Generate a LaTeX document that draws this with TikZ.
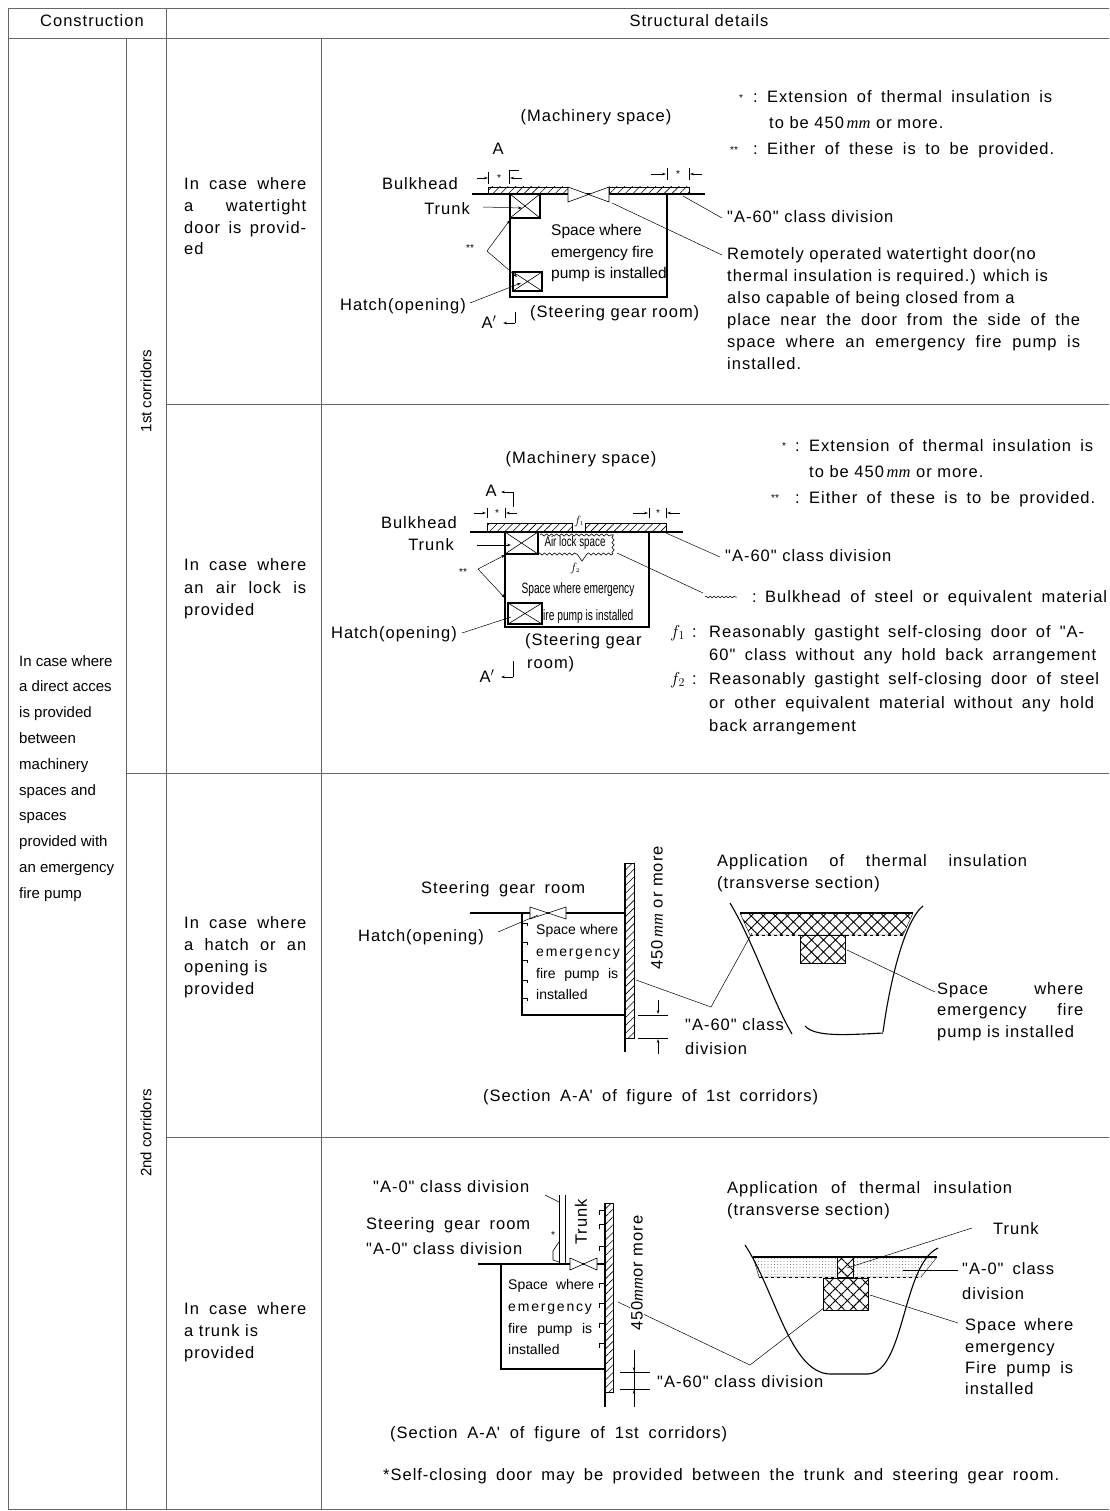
\documentclass[tikz,border=0pt]{standalone}
\usepackage{fontspec}
\setmainfont{Liberation Sans}
\newfontfamily\dfont[LetterSpace=6]{Liberation Sans}
\newfontfamily\pfont{Liberation Sans}
\newfontfamily\wfont[LetterSpace=13]{Liberation Sans}
\newfontfamily\sfontx{Liberation Serif}
\usetikzlibrary{arrows.meta,patterns.meta,decorations.pathmorphing}
\newcommand{\fsz}{\fontsize{16.5}{19}\selectfont}
\newcommand{\fsi}{\fontsize{15.5}{18}\selectfont}
\newcommand{\fsj}{\fontsize{14}{17}\selectfont}
\newcommand{\mmi}{{\sfontx\itshape mm}}
\newcommand{\jb}[2]{\makebox[#1pt][s]{#2}}
\tikzset{
  grid/.style={line width=0.9pt, draw=black!60},
  wall/.style={line width=1.1pt},
  thinl/.style={line width=0.6pt},
  lead/.style={line width=0.5pt},
  arr/.style={-{Stealth[length=4pt,width=2.6pt]}, line width=0.5pt},
  txt/.style={inner sep=0pt, anchor=base west, font=\dfont\fsz},
  txe/.style={inner sep=0pt, anchor=base east, font=\dfont\fsz},
  txc/.style={inner sep=0pt, anchor=center, font=\dfont\fsz},
  itx/.style={inner sep=0pt, anchor=base west, font=\pfont\fsi},
  jtx/.style={inner sep=0pt, anchor=base west, font=\pfont\fsj},
  wtx/.style={inner sep=0pt, anchor=base west, font=\wfont\fsj},
  ltx/.style={inner sep=0pt, anchor=base west, font=\pfont\fontsize{15}{18}\selectfont},
  vtx/.style={inner sep=0pt, anchor=center, rotate=90, font=\pfont\fontsize{15}{18}\selectfont},
  star/.style={inner sep=0pt, anchor=center, font=\pfont\fontsize{10}{12}\selectfont},
  hatchL/.style={pattern={Lines[angle=45,distance=5.5pt,line width=0.6pt]}},
  cross/.style={pattern={Hatch[angle=45,distance=8.5pt,line width=0.9pt]}},
  dotsp/.style={pattern={Dots[distance=3.2pt,radius=0.35pt]}},
  wavy/.style={decorate, decoration={snake, amplitude=1.1pt, segment length=5pt}, line width=0.6pt},
}
\begin{document}
\begin{tikzpicture}[x=1pt,y=-1pt]
\useasboundingbox (0,0) rectangle (1109,1511);
% ---------------- table ----------------
\draw[grid] (8,1509) -- (8,8) -- (1109,8);
\draw[grid] (8,38) -- (1109,38);
\draw[grid] (8,1509) -- (1109,1509);
\draw[grid] (166,8) -- (166,1509);
\draw[grid] (126,38) -- (126,1509);
\draw[grid] (321,38) -- (321,1509);
\draw[grid] (166,404) -- (1109,404);
\draw[grid] (126,773) -- (1109,773);
\draw[grid] (166,1137) -- (1109,1137);
\node[txc] (hc) at (92,21) {Construction};
\node[txc] (hs) at (699,21) {Structural details};
\foreach \t [count=\i] in {In case where,a direct acces,is provided,between,machinery,spaces and,spaces,provided with,an emergency,fire pump}
  \node[ltx] (left\i) at (19,{666+25.8*(\i-1)}) {\t};
\node[vtx] (c1) at (146,391) {1st corridors};
\node[vtx] (c2) at (146,1133) {2nd corridors};
% row labels
\node[txt] (r1a) at (184,190) {\jb{122}{In case where}};
\node[txt] (r1b) at (184,212) {\jb{122}{a watertight}};
\node[txt] (r1c) at (184,234) {\jb{122}{door is provid-}};
\node[txt] (r1d) at (184,255) {ed};
\node[txt] (r2a) at (184,570) {\jb{122}{In case where}};
\node[txt] (r2b) at (184,593) {\jb{122}{an air lock is}};
\node[txt] (r2c) at (184,615) {provided};
\node[txt] (r3a) at (184,928) {\jb{122}{In case where}};
\node[txt] (r3b) at (184,950) {\jb{122}{a hatch or an}};
\node[txt] (r3c) at (184,972) {opening is};
\node[txt] (r3d) at (184,994) {provided};
\node[txt] (r4a) at (184,1314) {\jb{122}{In case where}};
\node[txt] (r4b) at (184,1336) {a trunk is};
\node[txt] (r4c) at (184,1358) {provided};

% ================= ROW 1 =================
\node[txc] (m1) at (596,117) {(Machinery space)};
\node[star] (n1s) at (741,98) {*};
\node[txt] (n1c) at (753,103) {:};
\node[txt] (n1a) at (767,103) {\jb{285}{Extension of thermal insulation is}};
\node[txt] (n1b) at (769,129) {to be 450\,\mmi{} or more.};
\node[star] (n2s) at (734,150) {**};
\node[txt] (n2c) at (753,155) {:};
\node[txt] (n2a) at (767,155) {\jb{287}{Either of these is to be provided.}};
\node[txc] (A1) at (498,149) {A};
% dims
\draw[arr] (477,178) -- (488,178);
\draw[thinl] (488,172) -- (488,184);
\node[star] (d1s) at (499,178) {*};
\draw[thinl] (509,184) -- (509,170) -- (519,170);
\draw[arr] (522,178) -- (510,178);
\draw[arr] (651,174) -- (666,174);
\draw[thinl] (667,168) -- (667,180);
\node[star] (d2s) at (678,174) {*};
\draw[thinl] (689,168) -- (689,180);
\draw[arr] (702,174) -- (690,174);
% bulkhead
\draw[wall] (472,194) -- (705,194);
\draw[thinl, hatchL] (488,187) rectangle (568,194);
\draw[thinl, hatchL] (609,187) rectangle (689,194);
\draw[thinl, fill=white] (568,187) -- (609,202) -- (609,187) -- (568,202) -- cycle;
% room
\draw[wall] (510,194) -- (510,297) -- (667,297) -- (667,194);
\draw[wall] (510,194) rectangle (540,218);
\draw[thinl] (510,194) -- (540,218) (510,218) -- (540,194);
\draw[wall] (513,272) rectangle (542,291);
\draw[thinl] (513,272) -- (542,291) (513,291) -- (542,272);
\node[txe] (bh1) at (458,190) {Bulkhead};
\node[txe] (tr1) at (470,215) {Trunk};
\coordinate (tr1a) at (483,207);
\coordinate (tr1b) at (522,208);
\draw[arr] (tr1a) -- (tr1b);
\node[itx] (sp1a) at (551,236) {Space where};
\node[itx] (sp1b) at (551,258) {emergency fire};
\node[itx] (sp1c) at (551,279) {pump is installed};
\node[star] (ss1) at (470,248) {**};
\coordinate (ss1v) at (487,251);
\coordinate (ss1t) at (510,220);
\coordinate (ss1h) at (517,277);
\draw[arr] (ss1v) -- (ss1t);
\draw[arr] (ss1v) -- (ss1h);
\node[txe] (hat1) at (466,310) {Hatch(opening)};
\coordinate (hat1a) at (470,303);
\coordinate (hat1b) at (521,283);
\draw[arr] (hat1a) -- (hat1b);
\node[txc] (Ap1) at (489,322) {A$'$};
\draw[thinl] (515,312) -- (515,323);
\draw[arr] (515,323) -- (503,323);
\node[txt] (sg1) at (530,317) {(Steering gear room)};
\node[txt] (a60a) at (727,223) {"A-60" class division};
\coordinate (a60ap) at (683,196);
\coordinate (a60aq) at (722,218);
\draw[lead] (a60ap) -- (a60aq);
\coordinate (wdp) at (612,203);
\coordinate (wdq) at (722,255);
\draw[lead] (wdp) -- (wdq);
\node[txt] (wd1) at (727,260) {Remotely operated watertight door(no};
\node[txt] (wd2) at (727,282) {thermal insulation is required.) which is};
\node[txt] (wd3) at (727,304) {also capable of being closed from a};
\node[txt] (wd4) at (727,325) {\jb{353}{place near the door from the side of the}};
\node[txt] (wd5) at (727,347) {\jb{353}{space where an emergency fire pump is}};
\node[txt] (wd6) at (727,369) {installed.};

% ================= ROW 2 =================
\node[txc] (m2) at (581,459) {(Machinery space)};
\node[star] (n3s) at (784,446) {*};
\node[txt] (n3c) at (795,451) {:};
\node[txt] (n3a) at (809,451) {\jb{284}{Extension of thermal insulation is}};
\node[txt] (n3b) at (809,477) {to be 450\,\mmi{} or more.};
\node[star] (n4s) at (775,498) {**};
\node[txt] (n4c) at (795,503) {:};
\node[txt] (n4a) at (809,503) {\jb{286}{Either of these is to be provided.}};
\node[txc] (A2) at (491,491) {A};
\draw[thinl] (513,507) -- (513,492);
\draw[arr] (513,492) -- (501,492);
% dims
\draw[arr] (474,513) -- (486,513);
\draw[thinl] (487,508) -- (487,518);
\node[star] (d3s) at (497,513) {*};
\draw[thinl] (505,508) -- (505,518);
\draw[arr] (517,513) -- (506,513);
\draw[arr] (633,513) -- (648,513);
\draw[thinl] (649,508) -- (649,518);
\node[star] (d4s) at (658,513) {*};
\draw[thinl] (666,508) -- (666,518);
\draw[arr] (680,513) -- (667,513);
% bulkhead
\draw[wall] (470,532) -- (683,532);
\draw[thinl, hatchL] (487,523) rectangle (572,532);
\draw[thinl, hatchL] (585,523) rectangle (666,532);
\node[inner sep=0pt, font=\fontsize{13}{13}\selectfont] (f1d) at (579,521) {$f_{\scriptscriptstyle 1}$};
% room
\draw[wall] (505,532) -- (505,627) -- (649,627) -- (649,532);
\draw[wall] (505,532) rectangle (538,554);
\draw[thinl] (505,532) -- (538,554) (505,554) -- (538,532);
\draw[wavy] (538,554) -- (577,554);
\draw[thinl] (577,554) -- (582,561) -- (587,554);
\draw[wavy] (587,554) -- (613,554);
\draw[wavy] (613,554) -- (613,534);
\draw[wavy] (540,535) -- (613,535);
\node[inner sep=0pt, font=\pfont\fontsize{14}{14}\selectfont] (al) at (575,543) {\scalebox{0.7}[1]{Air lock space}};
\node[inner sep=0pt, font=\fontsize{13}{13}\selectfont] (f2d) at (575,568) {$f_{\scriptscriptstyle 2}$};
\node[inner sep=0pt, font=\pfont\fontsize{15}{15}\selectfont] (sp2a) at (578,590) {\scalebox{0.68}[1]{Space where emergency}};
\node[inner sep=0pt, anchor=west, font=\pfont\fontsize{15}{15}\selectfont] (sp2b) at (543,617) {\scalebox{0.68}[1]{ire pump is installed}};
\draw[wall] (508,603) rectangle (542,624);
\draw[thinl] (508,603) -- (542,624) (508,624) -- (542,603);
\node[txe] (bh2) at (457,528) {Bulkhead};
\node[txe] (tr2) at (454,550) {Trunk};
\coordinate (tr2a) at (477,545);
\coordinate (tr2b) at (511,545);
\draw[arr] (tr2a) -- (tr2b);
\node[star] (ss2) at (463,572) {**};
\coordinate (ss2v) at (478,569);
\coordinate (ss2t) at (505,555);
\coordinate (ss2h) at (505,598);
\draw[arr] (ss2v) -- (ss2t);
\draw[arr] (ss2v) -- (ss2h);
\node[txe] (hat2) at (457,638) {Hatch(opening)};
\coordinate (hat2a) at (462,633);
\coordinate (hat2b) at (511,617);
\draw[lead] (hat2a) -- (hat2b);
\node[txt] (sg2a) at (525,645) {(Steering gear};
\node[txt] (sg2b) at (527,668) {room)};
\node[txc] (Ap2) at (487,676) {A$'$};
\draw[thinl] (513,661) -- (513,677);
\draw[arr] (513,677) -- (501,677);
\coordinate (a60bp) at (666,533);
\coordinate (a60bq) at (720,557);
\draw[lead] (a60bp) -- (a60bq);
\node[txt] (a60b) at (725,561) {"A-60" class division};
\coordinate (blp) at (617,553);
\coordinate (blq) at (703,593);
\draw[lead] (blp) -- (blq);
\draw[wavy, line width=0.5pt, decoration={snake, amplitude=0.9pt, segment length=4pt}] (705,597) -- (737,597);
\node[txt] (blc) at (752,602) {:};
\node[txt] (blt) at (765,602) {\jb{342}{Bulkhead of steel or equivalent material}};
\node[inner sep=0pt, anchor=base west, font=\fontsize{18}{18}\selectfont] (f1l) at (670,637) {$f_1$};
\node[txt] (f1c) at (692,637) {:};
\node[txt] (f1a) at (709,637) {\jb{375}{Reasonably gastight self-closing door of "A-}};
\node[txt] (f1b) at (709,660) {\jb{387}{60" class without any hold back arrangement}};
\node[inner sep=0pt, anchor=base west, font=\fontsize{18}{18}\selectfont] (f2l) at (670,684) {$f_2$};
\node[txt] (f2c) at (692,684) {:};
\node[txt] (f2a) at (709,684) {\jb{390}{Reasonably gastight self-closing door of steel}};
\node[txt] (f2b) at (709,708) {\jb{385}{or other equivalent material without any hold}};
\node[txt] (f2e) at (709,731) {back arrangement};

% ================= ROW 3 =================
\node[txt] (sg3) at (421,893) {\jb{164}{Steering gear room}};
\draw[wall] (470,913) -- (625,913);
\draw[thinl, fill=white] (530,907) -- (566,919) -- (566,907) -- (530,919) -- cycle;
\draw[wall] (625,863) -- (625,1052);
\draw[thinl, hatchL] (625,863) rectangle (634,1038);
\draw[wall] (522,913) -- (522,1015) -- (625,1015);
\foreach \yy in {923,942,960,980,998}
  \draw[thinl] (522,\yy) -- (527,\yy) -- (527,\yy+3);
\node[jtx] (sp3a) at (536,934) {\jb{82}{Space where}};
\node[wtx] (sp3b) at (536,956) {emergency};
\node[jtx] (sp3c) at (536,978) {\jb{82}{fire pump is}};
\node[jtx] (sp3d) at (536,999) {installed};
\node[txt] (hat3) at (358,941) {Hatch(opening)};
\coordinate (hat3a) at (498,932);
\coordinate (hat3b) at (538,915);
\draw[lead] (hat3a) -- (hat3b);
\node[txc, rotate=90] (mm3) at (657,908) {450\,\mmi{} or more};
\draw[thinl] (638,1015) -- (668,1015);
\draw[thinl] (638,1038) -- (668,1038);
\draw[arr] (658,1000) -- (658,1014);
\draw[arr] (658,1054) -- (658,1039);
\node[txt] (a60c) at (685,1030) {"A-60" class};
\node[txt] (a60d) at (685,1054) {division};
\coordinate (l3a) at (636,980);
\coordinate (l3b) at (711,1007);
\coordinate (l3c) at (752,933);
\draw[lead] (l3a) -- (l3b) -- (l3c);
\node[txt] (ap3a) at (717,866) {\jb{310}{Application of thermal insulation}};
\node[txt] (ap3b) at (717,888) {(transverse section)};
% hull
\draw[cross] (740,913) -- (913,913) -- (903,935) -- (750,935) -- cycle;
\draw[wall] (740,913) -- (913,913);
\draw[thinl, dashed] (750,935) -- (903,935);
\fill[white] (801,936) rectangle (844,962);
\draw[cross] (800,935) rectangle (845,963);
\draw[thinl, dashed] (800,935) -- (800,963) -- (845,963) -- (845,935);
\draw[wall] (730,903) .. controls (755,945) and (772,1000) .. (792,1034);
\draw[wall] (923,906) .. controls (905,920) and (890,980) .. (883,1032);
\draw[wall] (805,1026) .. controls (815,1037) and (845,1035) .. (883,1033);
\coordinate (l3d) at (847,950);
\coordinate (l3e) at (935,992);
\draw[lead] (l3d) -- (l3e);
\node[txt] (sp3e) at (937,994) {\jb{146}{Space where}};
\node[txt] (sp3f) at (937,1015) {\jb{146}{emergency fire}};
\node[txt] (sp3g) at (937,1037) {pump is installed};
\node[txt] (sec3) at (483,1101) {\jb{335}{(Section A-A\textquotesingle{} of figure of 1st corridors)}};

% ================= ROW 4 =================
\node[txt] (a0a) at (373,1192) {"A-0" class division};
\coordinate (a0ap) at (545,1195);
\coordinate (a0aq) at (559,1202);
\draw[lead] (a0ap) -- (a0aq);
\draw[thinl] (559,1195) -- (559,1264);
\draw[thinl] (565,1195) -- (565,1264);
\node[txc, rotate=90] (trk4) at (581,1222) {Trunk};
\draw[wall] (605,1203) -- (605,1407);
\draw[thinl, hatchL] (605,1203) rectangle (613,1392);
\foreach \yy in {1210,1224,1246,1283,1303,1323,1343}
  \draw[thinl] (605,\yy) -- (599,\yy) -- (599,\yy+5);
\draw[wall] (478,1264) -- (605,1264);
\draw[thinl, fill=white] (570,1258) -- (597,1270) -- (597,1258) -- (570,1270) -- cycle;
\draw[wall] (501,1264) -- (501,1369) -- (606,1369);
\draw[thinl] (559,1262) -- (553,1260) -- (553,1251) -- (559,1242);
\node[star] (s4) at (553,1235) {*};
\node[txt] (sg4) at (366,1229) {\jb{164}{Steering gear room}};
\node[txt] (a0b) at (366,1254) {"A-0" class division};
\node[jtx] (sp4a) at (508,1289) {\jb{86}{Space where}};
\node[wtx] (sp4b) at (508,1311) {emergency};
\node[jtx] (sp4c) at (508,1333) {\jb{84}{fire pump is}};
\node[jtx] (sp4d) at (508,1354) {installed};
\coordinate (l4a) at (618,1302);
\coordinate (l4b) at (750,1365);
\coordinate (l4c) at (825,1307);
\draw[lead] (l4a) -- (l4b) -- (l4c);
\node[txc, rotate=90, fill=white, inner sep=1pt] (mm4) at (637,1273) {450\mmi{}or more};
\draw[thinl] (634,1350) -- (634,1407);
\draw[thinl] (620,1372) -- (650,1372);
\draw[thinl] (620,1389) -- (650,1389);
\draw[arr] (634,1360) -- (634,1371);
\draw[arr] (634,1401) -- (634,1390);
\node[txt] (a60e) at (657,1387) {"A-60" class division};
\node[txt] (ap4a) at (727,1193) {\jb{285}{Application of thermal insulation}};
\node[txt] (ap4b) at (727,1215) {(transverse section)};
\draw[dotsp] (753,1257) -- (937,1257) -- (921,1277) -- (759,1277) -- cycle;
\draw[cross, fill=white] (837,1257) rectangle (853,1277);
\draw[cross] (837,1257) rectangle (853,1277);
\fill[white] (823,1278) rectangle (868,1310);
\draw[cross] (823,1278) rectangle (868,1310);
\draw[thinl, dashed] (823,1278) -- (823,1310) -- (868,1310) -- (868,1278);
\draw[thinl, dashed] (759,1277) -- (921,1277);
\draw[wall] (753,1257) -- (937,1257);
\draw[wall] (745,1245) .. controls (775,1290) and (790,1373) .. (830,1374) -- (868,1374) .. controls (905,1372) and (902,1265) .. (938,1248);
\node[txt] (trk4b) at (993,1234) {Trunk};
\coordinate (trk4p) at (972,1228);
\coordinate (trk4q) at (847,1268);
\draw[lead] (trk4p) -- (trk4q);
\node[txt] (a0c) at (962,1274) {\jb{92}{"A-0" class}};
\node[txt] (a0d) at (962,1299) {division};
\coordinate (a0cp) at (958,1270);
\coordinate (a0cq) at (903,1270);
\draw[lead] (a0cp) -- (a0cq);
\node[txt] (sp4e) at (965,1330) {\jb{108}{Space where}};
\node[txt] (sp4f) at (965,1352) {emergency};
\node[txt] (sp4g) at (965,1373) {\jb{108}{Fire pump is}};
\node[txt] (sp4h) at (965,1394) {installed};
\coordinate (sp4p) at (870,1295);
\coordinate (sp4q) at (958,1323);
\draw[lead] (sp4p) -- (sp4q);
\node[txt] (sec4) at (390,1438) {\jb{337}{(Section A-A\textquotesingle{} of figure of 1st corridors)}};
\node[txt] (note4) at (383,1480) {\jb{676}{*Self-closing door may be provided between the trunk and steering gear room.}};
\end{tikzpicture}
\end{document}
